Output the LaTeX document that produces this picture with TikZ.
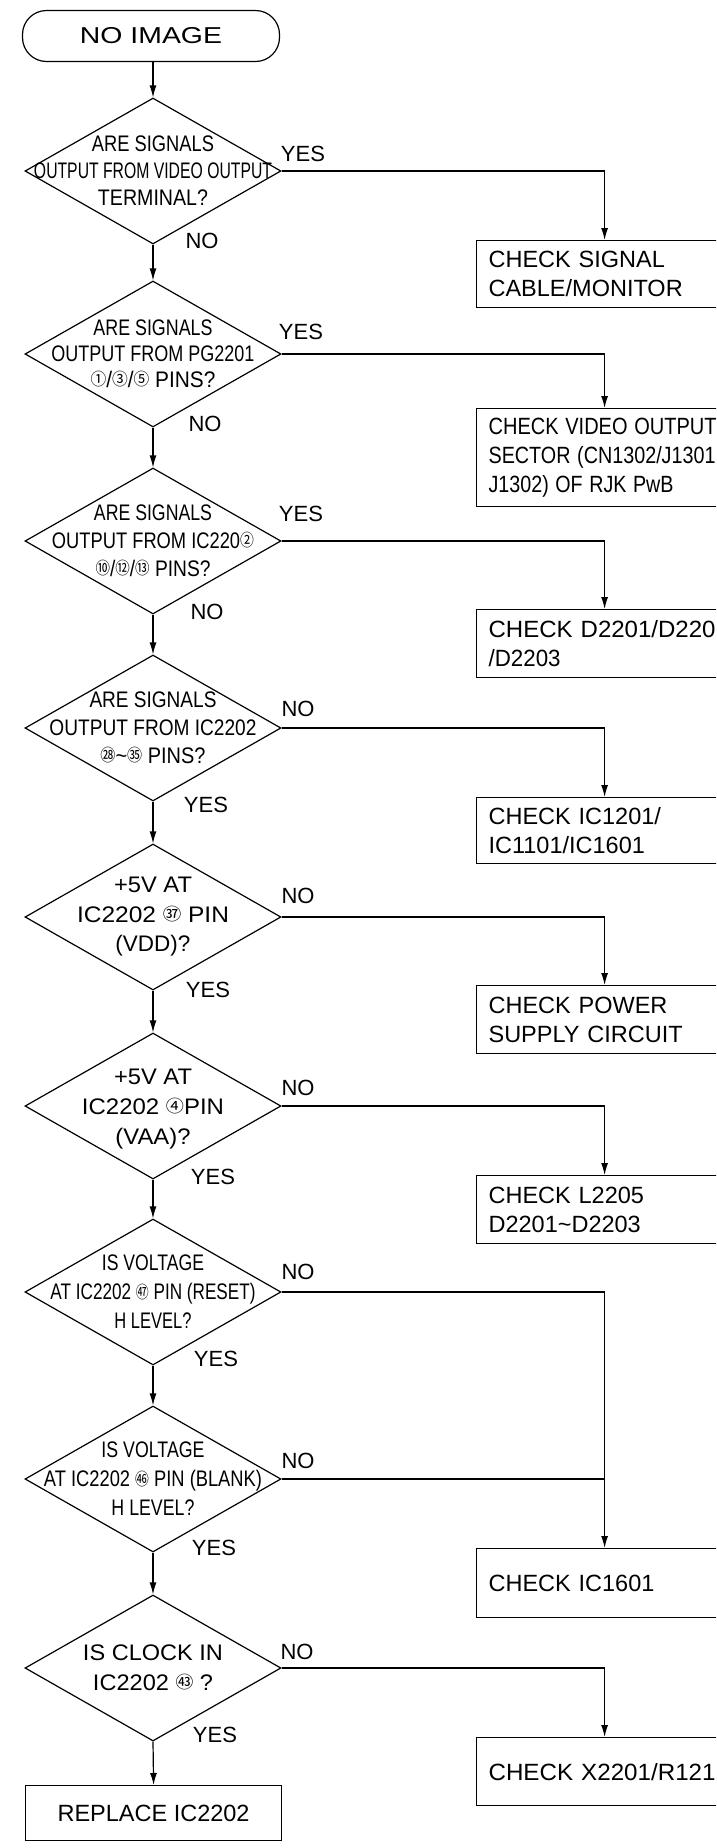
\documentclass[tikz,border=0pt]{standalone}
\usepackage{fontspec}
\setmainfont{Liberation Sans}
\newfontfamily\cjkf{Noto Sans CJK JP}
\usetikzlibrary{shapes.geometric,arrows.meta,calc}
\newcommand{\fw}[2]{\resizebox{#1}{\height}{#2}}
\newcommand{\cn}[1]{\raisebox{1.8pt}{\cjkf\fontsize{17}{17}\selectfont #1}}
\begin{document}
\begin{tikzpicture}[x=1pt,y=-1pt,line width=1.2pt,
  dia/.style={draw, diamond, minimum width=256pt, minimum height=146pt, inner sep=0pt},
  dtext/.style={align=center, inner sep=0pt, font=\fontsize{22.5}{28}\selectfont},
  box/.style={draw, rectangle, anchor=north west, minimum width=256pt, text width=232pt, inner xsep=12pt, inner ysep=0pt, align=left, font=\fontsize{23.5}{29}\selectfont},
  lbl/.style={inner sep=0pt, font=\fontsize{22}{22}\selectfont},
  arr/.style={-{Latex[length=12pt,width=7pt]}}]
\useasboundingbox (0,0) rectangle (716,1848);
\clip (0,0) rectangle (716,1848);
\fill[white] (0,0) rectangle (716,1848);

% start
\node[draw, rectangle, rounded corners=24pt, minimum width=257pt, minimum height=51pt, inner sep=0pt, font=\fontsize{23}{23}\selectfont] (start) at (151,36) {\fw{142pt}{NO IMAGE}};

% diamonds
\node[dia] (d1) at (153,171) {};
\node[dia] (d2) at (153,354) {};
\node[dia] (d3) at (153,541) {};
\node[dia] (d4) at (153,728) {};
\node[dia] (d5) at (153,917) {};
\node[dia] (d6) at (153,1106) {};
\node[dia] (d7) at (153,1292) {};
\node[dia] (d8) at (153,1479) {};
\node[dia] (d9) at (153,1668) {};

\node[dtext, font=\fontsize{22.5}{27}\selectfont] (t1) at (d1.center) {\fw{122pt}{ARE SIGNALS}\\\fw{238pt}{OUTPUT FROM VIDEO OUTPUT}\\\fw{110pt}{TERMINAL?}};
\node[dtext, font=\fontsize{22.5}{26}\selectfont] (t2) at (d2.center) {\fw{119pt}{ARE SIGNALS}\\\fw{203pt}{OUTPUT FROM PG2201}\\\fw{125pt}{\cn{①}/\cn{③}/\cn{⑤} PINS?}};
\node[dtext] (t3) at (d3.center) {\fw{118pt}{ARE SIGNALS}\\\fw{202pt}{OUTPUT FROM IC220\cn{②}}\\\fw{115pt}{\cn{⑩}/\cn{⑫}/\cn{⑬} PINS?}};
\node[dtext] (t4) at (d4.center) {\fw{127pt}{ARE SIGNALS}\\\fw{207pt}{OUTPUT FROM IC2202}\\\fw{105pt}{\cn{㉘}\textasciitilde\cn{㉟} PINS?}};
\node[dtext, font=\fontsize{22.5}{29.5}\selectfont] (t5) at (d5.center) {\fw{78pt}{+5V AT}\\\fw{152pt}{IC2202 \cn{㊲} PIN}\\\fw{75pt}{(VDD)?}};
\node[dtext, font=\fontsize{22.5}{30}\selectfont] (t6) at ($(d6.center)+(0,3)$) {\fw{78pt}{+5V AT}\\\fw{142pt}{IC2202 \cn{④}PIN}\\\fw{75pt}{(VAA)?}};
\node[dtext, font=\fontsize{22.5}{29}\selectfont] (t7) at (d7.center) {\fw{102pt}{IS VOLTAGE}\\\fw{205pt}{AT IC2202 \cn{㊼} PIN (RESET)}\\\fw{77pt}{H LEVEL?}};
\node[dtext, font=\fontsize{22.5}{29}\selectfont] (t8) at (d8.center) {\fw{103pt}{IS VOLTAGE}\\\fw{218pt}{AT IC2202 \cn{㊻} PIN (BLANK)}\\\fw{83pt}{H LEVEL?}};
\node[dtext, font=\fontsize{22.5}{30}\selectfont] (t9) at (d9.center) {\fw{140pt}{IS CLOCK IN}\\\fw{120pt}{IC2202 \cn{㊸} ?}};

% boxes
\node[box, minimum height=67pt] (b1) at (476,240) {CHECK SIGNAL\\CABLE/MONITOR};
\node[box, minimum height=98pt] (b2) at (476,408) {\fw{228pt}{CHECK VIDEO OUTPUT}\\\fw{227pt}{SECTOR (CN1302/J1301}\\\fw{185pt}{J1302) OF RJK PwB}};
\node[box, minimum height=68pt] (b3) at (476,609) {\fw{227pt}{CHECK D2201/D220}\\\fw{72pt}{/D2203}};
\node[box, minimum height=66pt] (b4) at (476,797) {CHECK IC1201/\\IC1101/IC1601};
\node[box, minimum height=68pt] (b5) at (476,985) {CHECK POWER\\SUPPLY CIRCUIT};
\node[box, minimum height=68pt] (b6) at (476,1175) {CHECK L2205\\D2201\textasciitilde D2203};
\node[box, minimum height=69pt] (b7) at (476,1548) {CHECK IC1601};
\node[box, minimum height=68pt] (b8) at (476,1737) {\fw{227pt}{CHECK X2201/R121}};
\node[draw, rectangle, anchor=north west, minimum width=256pt, minimum height=55pt, inner sep=0pt, font=\fontsize{23.5}{29}\selectfont] (rep) at (25,1785) {REPLACE IC2202};

% main column arrows
\draw[arr] (start.south -| d1.north) -- (d1.north);
\draw[arr] (d1.south) -- (d2.north);
\draw[arr] (d2.south) -- (d3.north);
\draw[arr] (d3.south) -- (d4.north);
\draw[arr] (d4.south) -- (d5.north);
\draw[arr] (d5.south) -- (d6.north);
\draw[arr] (d6.south) -- (d7.north);
\draw[arr] (d7.south) -- (d8.north);
\draw[arr] (d8.south) -- (d9.north);
\draw[arr] (d9.south) -- (rep.north);

% side arrows
\draw[arr] (d1.east) -| (b1.north);
\draw[arr] (d2.east) -| (b2.north);
\draw[arr] (d3.east) -| (b3.north);
\draw[arr] (d4.east) -| (b4.north);
\draw[arr] (d5.east) -| (b5.north);
\draw[arr] (d6.east) -| (b6.north);
\draw[arr] (d7.east) -| (b7.north);
\draw (d8.east) -- (d8.east -| b7.north);
\draw[arr] (d9.east) -| (b8.north);

% labels
\node[lbl] (l1r) at (303,154) {YES};
\node[lbl] (l1b) at (202,241) {NO};
\node[lbl] (l2r) at (301,332) {YES};
\node[lbl] (l2b) at (205,424) {NO};
\node[lbl] (l3r) at (301,514) {YES};
\node[lbl] (l3b) at (207,612) {NO};
\node[lbl] (l4r) at (298,709) {NO};
\node[lbl] (l4b) at (206,805) {YES};
\node[lbl] (l5r) at (298,896) {NO};
\node[lbl] (l5b) at (208,990) {YES};
\node[lbl] (l6r) at (298,1088) {NO};
\node[lbl] (l6b) at (213,1177) {YES};
\node[lbl] (l7r) at (298,1272) {NO};
\node[lbl] (l7b) at (216,1359) {YES};
\node[lbl] (l8r) at (298,1461) {NO};
\node[lbl] (l8b) at (214,1548) {YES};
\node[lbl] (l9r) at (297,1652) {NO};
\node[lbl] (l9b) at (215,1735) {YES};
\end{tikzpicture}
\end{document}
